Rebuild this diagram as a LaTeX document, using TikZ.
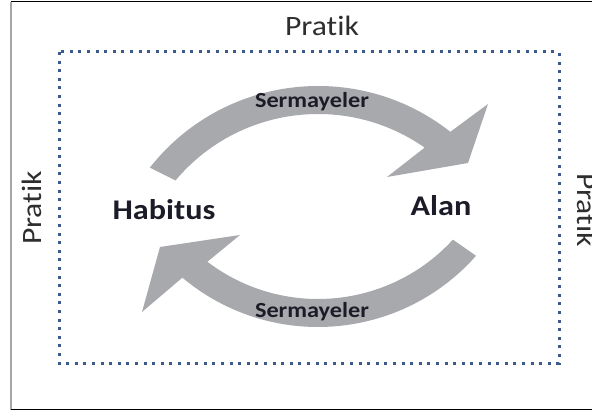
\documentclass[tikz,border=0pt]{standalone}
\usepackage{graphicx}
\usepackage{fontspec}
\setmainfont{Carlito}[Ligatures=NoCommon]
\usetikzlibrary{calc}
\definecolor{arrowgray}{HTML}{A7A9AC}
\definecolor{dotblue}{HTML}{3A5A8C}
\definecolor{txtgray}{HTML}{2E2E2E}
\definecolor{txtdark}{HTML}{1C1C28}
\newcommand{\widetext}[1]{\scalebox{1.13}[1]{#1}}
\tikzset{
  lbl/.style={anchor=base, inner sep=0pt},
  pratik/.style={lbl, text=txtgray, font=\fontsize{28}{30}\selectfont},
  term/.style={lbl, text=txtdark, font=\bfseries\fontsize{28.5}{30}\selectfont},
  caplbl/.style={lbl, text=txtdark, font=\bfseries\fontsize{21.5}{24}\selectfont},
  band/.style={fill=arrowgray, draw=none},
  dotframe/.style={draw=dotblue, line width=3pt, dash pattern=on 3pt off 5.6pt},
}
\begin{document}
\begin{tikzpicture}[x=1pt,y=-1pt]
\useasboundingbox (0,0) rectangle (592,414);
\fill[white] (0,0) rectangle (592,414);
% outer frame
\draw[gray!70, line width=1.5pt] (11,2) -- (11,409.5);
\draw[black, line width=1pt] (11,2) -- (592,2);
\draw[black, line width=1pt] (11,409.5) -- (592,409.5);
% dotted frame
\draw[dotframe] (59,52) rectangle (559,363);
% upper arrow
\coordinate (c1) at (318,300);
\fill[band] ($(c1)+(218.2:214)$) arc[start angle=218.2, end angle=308.2, radius=214]
  -- (488,104) -- (468,163) -- (387,177)
  -- ($(c1)+(305:186)$) arc[start angle=305, end angle=220, radius=186] -- cycle;
% lower arrow
\coordinate (c2) at (318,116);
\fill[band] ($(c2)+(41.5:211)$) arc[start angle=41.5, end angle=130, radius=211]
  -- (142,312) -- (160,247) -- (240,235)
  -- ($(c2)+(127.2:183)$) arc[start angle=127.2, end angle=42.5, radius=183] -- cycle;
% labels
\node[pratik] (ptop) at (322,36) {\widetext{Pratik}};
\node[pratik, rotate=90] (pleft) at (41,208) {\widetext{Pratik}};
\node[pratik, rotate=-90] (pright) at (577,210) {\widetext{Pratik}};
\node[term] (habitus) at (164,220) {\widetext{Habitus}};
\node[term] (alan) at (441,216) {\widetext{Alan}};
\node[caplbl] (s1) at (312,108) {\widetext{Sermayeler}};
\node[caplbl] (s2) at (312,317) {\widetext{Sermayeler}};
\end{tikzpicture}
\end{document}
